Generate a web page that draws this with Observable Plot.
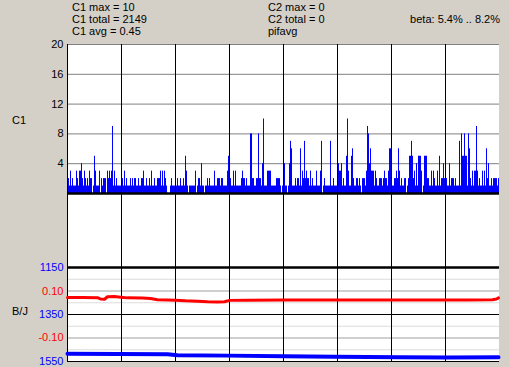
<!DOCTYPE html>
<html><head><meta charset="utf-8">
<script src="https://cdn.jsdelivr.net/npm/d3@7"></script>
<script src="https://cdn.jsdelivr.net/npm/@observablehq/plot@0.6"></script>
<style>
body{margin:0;background:#d4d0c8;}
#chart{position:relative;width:509px;height:367px;background:#d4d0c8;overflow:hidden;font-family:"Liberation Sans",Arial,sans-serif;font-size:11px;}
.t{position:absolute;line-height:12px;white-space:nowrap;color:#000;}
</style></head><body>
<div id="chart">
  <div style="position:absolute;left:67px;top:44px;width:432px;height:318px;background:#fff"></div>
  <div class="t" style="left:72px;top:1px">C1 max = 10</div>
  <div class="t" style="left:72px;top:13px">C1 total = 2149</div>
  <div class="t" style="left:72px;top:25px">C1 avg = 0.45</div>
  <div class="t" style="left:268px;top:1px">C2 max = 0</div>
  <div class="t" style="left:268px;top:13px">C2 total = 0</div>
  <div class="t" style="left:268px;top:25px">pifavg</div>
  <div class="t" style="right:9px;top:13px">beta: 5.4% .. 8.2%</div>
  <div class="t" style="left:12px;top:114px">C1</div>
  <div class="t" style="left:12px;top:305px">B/J</div>
</div>
<script>
// C1 counts, one per pixel column (432 columns)
const c1 = [
 1,2,1,3,1,2,1,1,1,3, 2,1,3,3,4,2,1,3,2,1, 2,1,3,2,2,0,1,5,3,1, 1,1,3,0,2,1,2,2,2,0, 3,2,3,2,3,9,1,3,1,2, 1,1,1,1,
 1,2,1,3,1,2,1,1,1,2, 1,2,1,2,2,1,1,2,1,1, 2,2,3,1,1,2,1,1,2,1, 3,1,1,2,1,1,2,2,2,3, 1,3,1,3,2,1,0,0,0,1, 2,1,1,1,
 1,1,2,1,1,2,1,1,2,1, 5,3,1,0,1,1,1,1,1,1, 3,0,1,2,2,1,4,1,1,0, 1,1,2,1,2,1,1,1,1,3, 1,1,2,2,2,1,2,2,1,1, 1,1,3,5,
 1,2,1,1,3,1,3,1,1,1, 1,1,2,3,2,2,1,2,1,1, 1,8,8,2,2,1,1,2,2,8, 2,2,1,4,10,1,1,1,3,3, 3,3,1,1,1,1,1,2,2,2, 2,1,0,1,
 1,4,1,1,0,1,4,7,6,1, 1,1,2,1,2,2,1,6,1,3, 2,7,2,3,2,2,1,3,1,2, 1,1,1,3,1,1,1,3,7,0, 1,2,1,1,1,1,1,7,1,1, 2,1,1,1,
 1,4,3,3,4,1,2,1,1,5, 10,3,1,1,5,6,2,1,1,2, 2,1,2,1,0,2,2,2,1,3, 9,8,4,6,3,3,3,1,3,2, 1,1,2,2,2,1,2,3,2,2, 1,3,6,6,
 1,1,1,2,2,3,2,6,3,1, 2,1,1,2,2,0,1,2,5,5, 7,5,2,3,1,4,1,5,5,5, 3,0,1,5,5,5,2,2,1,1, 3,1,3,2,1,1,3,1,5,1, 2,2,4,2,
 1,2,1,1,4,1,2,2,2,1, 2,1,1,1,7,1,8,5,5,8, 5,5,1,8,6,2,1,3,1,3, 3,9,3,1,2,1,1,3,1,3, 1,6,2,4,1,1,2,1,2,2, 2,2,1,2
];
const c1Ticks = [4, 8, 12, 16, 20];
const gridX = [54, 108, 162, 216, 270, 324, 378];

// B/J lower panel
const bjTicks = [1150, 1350, 1550];
const bjLight = [1200, 1300, 1400, 1500];
const bjMid = [1250, 1450];
const blueX = [0, 50, 100, 110, 160, 217, 267, 333, 380, 431];
const blueY = [1517, 1518, 1519, 1523, 1525, 1528, 1530, 1532, 1533, 1532];
const redTicks = [0.10, -0.10];
const redX = [0, 15, 30, 33, 37, 40, 47, 53, 60, 75, 83, 90, 100, 108, 118, 130, 140, 150, 157, 162, 180, 217, 250, 300, 350, 400, 425, 429, 431];
const redY = [0.075, 0.075, 0.074, 0.068, 0.067, 0.078, 0.079, 0.076, 0.073, 0.072, 0.070, 0.065, 0.064, 0.063, 0.060, 0.058, 0.056, 0.055, 0.056, 0.062, 0.063, 0.064, 0.064, 0.064, 0.064, 0.064, 0.065, 0.068, 0.073];

const chart = document.getElementById("chart");
const bars = c1.map((v, i) => ({x1: i, x2: i + 1, y1: 0, y2: v}));
const blue = blueX.map((x, i) => ({x, y: blueY[i]}));
const red = redX.map((x, i) => ({x, y: redY[i]}));

function layer(opts, color) {
  const svg = Plot.plot({
    width: 509, height: 367, marginLeft: 67, marginRight: 10,
    x: {domain: [0, 432], axis: null},
    ...opts,
    style: {background: "transparent", position: "absolute", left: "0px", top: "0px",
      fontFamily: "Liberation Sans, Arial, sans-serif", fontSize: "11px", color: color || "#000", overflow: "visible"}
  });
  chart.appendChild(svg);
}

// C1 panel
layer({
  marginTop: 44, marginBottom: 174,
  y: {domain: [0, 20], ticks: c1Ticks, tickFormat: d => String(d), tickSize: 0, tickPadding: 4, label: null},
  marks: [
    Plot.ruleY(c1Ticks, {stroke: "#808080"}),
    Plot.rect(bars, {x1: "x1", x2: "x2", y1: "y1", y2: "y2", fill: "#0000ff"}),
    Plot.ruleX(gridX, {stroke: "#000"}),
    Plot.ruleX([0], {stroke: "#000"}),
    Plot.ruleY([0], {stroke: "#000", strokeWidth: 2.5})
  ]
}, "#000");

// C2 panel (empty)
layer({
  marginTop: 193, marginBottom: 100,
  y: {domain: [0, 1], axis: null},
  marks: [
    Plot.ruleX(gridX, {stroke: "#000"}),
    Plot.ruleX([0], {stroke: "#000"})
  ]
}, "#000");

// B/J panel, blue scale
layer({
  marginTop: 267, marginBottom: 6,
  y: {domain: [1150, 1550], reverse: true, ticks: bjTicks, tickFormat: d => String(d), tickSize: 0, tickPadding: 4, label: null},
  marks: [
    Plot.ruleY(bjLight, {stroke: "#dcdcdc"}),
    Plot.ruleY(bjMid, {stroke: "#a0a0a0"}),
    Plot.ruleY([1350, 1550], {stroke: "#000"}),
    Plot.ruleY([1150], {stroke: "#000", strokeWidth: 2.5}),
    Plot.ruleX(gridX, {stroke: "#000"}),
    Plot.ruleX([0], {stroke: "#000"}),
    Plot.line(blue, {x: "x", y: "y", stroke: "#0000ff", strokeWidth: 4})
  ]
}, "#0000ff");

// B/J panel, red scale
layer({
  marginTop: 267, marginBottom: 6,
  y: {domain: [-0.2063, 0.2063], ticks: redTicks, tickFormat: d => d.toFixed(2), tickSize: 0, tickPadding: 4, label: null},
  marks: [
    Plot.line(red, {x: "x", y: "y", stroke: "#ff0000", strokeWidth: 3})
  ]
}, "#ff0000");
</script>
</body></html>
